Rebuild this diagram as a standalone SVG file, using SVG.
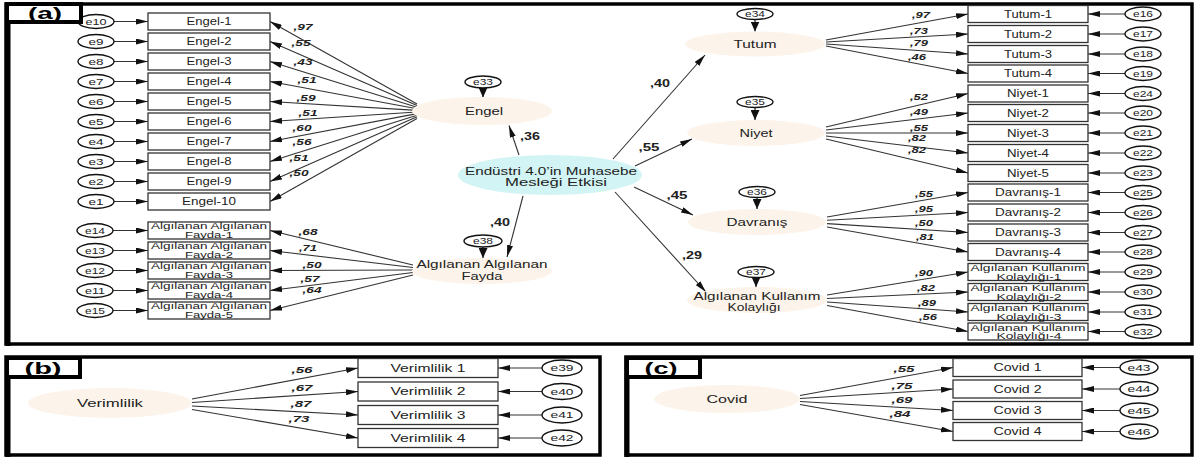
<svg xmlns="http://www.w3.org/2000/svg" width="1197" height="458" viewBox="0 0 1197 458">
<style>
text{font-family:"Liberation Sans",Arial,sans-serif;fill:#222;text-anchor:middle}
.box{fill:#fff;stroke:#333;stroke-width:1.3}
.lat{fill:#fcf4ea}
.cen{fill:#d2f4f4}
.err{fill:#fff;stroke:#111;stroke-width:1.4}
.bt{font-size:10px}
.bt2{font-size:9px}
.et{font-size:8.5px}
.lt{font-size:11.5px}
.lt2{font-size:10px}
.ct{font-size:9px;font-weight:bold;font-style:italic}
.pt{font-size:10px;font-weight:bold}
.pl{font-size:16px;font-weight:bold;fill:#000}
.fr{fill:none;stroke:#000;stroke-width:3.5}
.lb{fill:#fff;stroke:#000;stroke-width:4}
.cn line{stroke:#333;stroke-width:1.1;marker-end:url(#ah)}
.cn .dn{stroke:#111;marker-end:url(#ah2)}
.cp{stroke:#111;stroke-width:1.5;marker-end:url(#ah3)}
</style>
<defs>
<marker id="ah" viewBox="0 0 12 6" refX="12" refY="3" markerWidth="12" markerHeight="6" markerUnits="userSpaceOnUse" orient="auto"><path d="M0,0 L12,3 L0,6 Z" fill="#111"/></marker>
<marker id="ah2" viewBox="0 0 10 9" refX="10" refY="4.5" markerWidth="10" markerHeight="9" markerUnits="userSpaceOnUse" orient="auto"><path d="M0,0 L10,4.5 L0,9 Z" fill="#111"/></marker>
<marker id="ah3" viewBox="0 0 12 8" refX="12" refY="4" markerWidth="12" markerHeight="8" markerUnits="userSpaceOnUse" orient="auto"><path d="M0,0 L12,4 L0,8 Z" fill="#111"/></marker>
</defs>
<rect width="1197" height="458" fill="#fff"/>

<!-- panel frames -->
<g id="panel-a">
<rect class="fr" x="6" y="4" width="1186" height="340"/>
<line x1="8" y1="3" x2="8" y2="346" stroke="#000" stroke-width="5"/>
</g>
<g id="panel-b">
<rect class="fr" x="6" y="357" width="594" height="98"/>
<line x1="8" y1="356" x2="8" y2="457" stroke="#000" stroke-width="5"/>
</g>
<g id="panel-c">
<rect class="fr" x="626" y="357" width="566" height="98"/>
<line x1="627" y1="356" x2="627" y2="457" stroke="#000" stroke-width="5"/>
</g>

<!-- connectors -->
<g id="connectors" class="cn">
<line x1="114" y1="21.5" x2="148" y2="21.5"/>
<line x1="114" y1="41.5" x2="148" y2="41.5"/>
<line x1="114" y1="61.5" x2="148" y2="61.5"/>
<line x1="114" y1="81.5" x2="148" y2="81.5"/>
<line x1="114" y1="101.5" x2="148" y2="101.5"/>
<line x1="114" y1="121.5" x2="148" y2="121.5"/>
<line x1="114" y1="141.5" x2="148" y2="141.5"/>
<line x1="114" y1="161.5" x2="148" y2="161.5"/>
<line x1="114" y1="181.5" x2="148" y2="181.5"/>
<line x1="114" y1="201.5" x2="148" y2="201.5"/>
<line x1="113" y1="230.5" x2="148" y2="230.5"/>
<line x1="113" y1="250.5" x2="148" y2="250.5"/>
<line x1="113" y1="270.5" x2="148" y2="270.5"/>
<line x1="113" y1="290.5" x2="148" y2="290.5"/>
<line x1="113" y1="310.5" x2="148" y2="310.5"/>
<line x1="417" y1="104" x2="270" y2="21.5"/>
<line x1="417" y1="105.6" x2="270" y2="41.5"/>
<line x1="417" y1="107.2" x2="270" y2="61.5"/>
<line x1="417" y1="108.8" x2="270" y2="81.5"/>
<line x1="417" y1="110.4" x2="270" y2="101.5"/>
<line x1="417" y1="112" x2="270" y2="121.5"/>
<line x1="417" y1="113.6" x2="270" y2="141.5"/>
<line x1="417" y1="115.2" x2="270" y2="161.5"/>
<line x1="417" y1="116.8" x2="270" y2="181.5"/>
<line x1="417" y1="118.4" x2="270" y2="201.5"/>
<line x1="413" y1="265" x2="270" y2="230.5"/>
<line x1="413" y1="267.5" x2="270" y2="250.5"/>
<line x1="413" y1="270" x2="270" y2="270.5"/>
<line x1="413" y1="272.5" x2="270" y2="290.5"/>
<line x1="413" y1="275" x2="270" y2="310.5"/>
<line x1="1125" y1="14" x2="1088" y2="14"/>
<line x1="1125" y1="34" x2="1088" y2="34"/>
<line x1="1125" y1="54" x2="1088" y2="54"/>
<line x1="1125" y1="73.5" x2="1088" y2="73.5"/>
<line x1="1125" y1="93.5" x2="1088" y2="93.5"/>
<line x1="1125" y1="113" x2="1088" y2="113"/>
<line x1="1125" y1="133" x2="1088" y2="133"/>
<line x1="1125" y1="153" x2="1088" y2="153"/>
<line x1="1125" y1="173" x2="1088" y2="173"/>
<line x1="1125" y1="192.5" x2="1088" y2="192.5"/>
<line x1="1125" y1="212.5" x2="1088" y2="212.5"/>
<line x1="1125" y1="232.5" x2="1088" y2="232.5"/>
<line x1="1125" y1="252" x2="1088" y2="252"/>
<line x1="1125" y1="272" x2="1088" y2="272"/>
<line x1="1125" y1="292" x2="1088" y2="292"/>
<line x1="1125" y1="312" x2="1088" y2="312"/>
<line x1="1125" y1="331.5" x2="1088" y2="331.5"/>
<line x1="826" y1="40" x2="968" y2="14"/>
<line x1="826" y1="42" x2="968" y2="34"/>
<line x1="826" y1="44" x2="968" y2="54"/>
<line x1="826" y1="46" x2="968" y2="73.5"/>
<line x1="826" y1="127" x2="968" y2="93.5"/>
<line x1="826" y1="130" x2="968" y2="113"/>
<line x1="826" y1="133" x2="968" y2="133"/>
<line x1="826" y1="136" x2="968" y2="153"/>
<line x1="826" y1="139" x2="968" y2="173"/>
<line x1="827" y1="217" x2="968" y2="192.5"/>
<line x1="827" y1="220.3" x2="968" y2="212.5"/>
<line x1="827" y1="223.6" x2="968" y2="232.5"/>
<line x1="827" y1="227" x2="968" y2="252"/>
<line x1="827" y1="295" x2="968" y2="272"/>
<line x1="827" y1="298.5" x2="968" y2="292"/>
<line x1="827" y1="302" x2="968" y2="312"/>
<line x1="827" y1="305.5" x2="968" y2="331.5"/>
<line class="dn" x1="483" y1="88" x2="483" y2="97.5"/>
<line class="dn" x1="483" y1="247" x2="483" y2="258"/>
<line class="dn" x1="755" y1="19.5" x2="755" y2="31.5"/>
<line class="dn" x1="755" y1="107.5" x2="755" y2="120"/>
<line class="dn" x1="757" y1="197.5" x2="757" y2="209"/>
<line class="dn" x1="756" y1="277.5" x2="756" y2="287"/>
<line class="cp" x1="519" y1="155" x2="509" y2="125.5"/>
<line class="cp" x1="523" y1="196" x2="507" y2="257"/>
<line class="cp" x1="613" y1="159" x2="705" y2="55"/>
<line class="cp" x1="635" y1="166" x2="692" y2="139"/>
<line class="cp" x1="634" y1="187" x2="693" y2="215"/>
<line class="cp" x1="615" y1="192" x2="706" y2="292"/>
<line x1="192" y1="399" x2="358" y2="368"/>
<line x1="192" y1="402.5" x2="358" y2="391.5"/>
<line x1="192" y1="406" x2="358" y2="415"/>
<line x1="192" y1="409.5" x2="358" y2="438"/>
<line x1="542" y1="368" x2="498" y2="368"/>
<line x1="542" y1="391.5" x2="498" y2="391.5"/>
<line x1="542" y1="415" x2="498" y2="415"/>
<line x1="542" y1="438" x2="498" y2="438"/>
<line x1="800" y1="395.5" x2="953" y2="367.5"/>
<line x1="800" y1="398.5" x2="953" y2="389"/>
<line x1="800" y1="401.5" x2="953" y2="410.5"/>
<line x1="800" y1="404.5" x2="953" y2="431.5"/>
<line x1="1120" y1="367.5" x2="1082" y2="367.5"/>
<line x1="1120" y1="389" x2="1082" y2="389"/>
<line x1="1120" y1="410.5" x2="1082" y2="410.5"/>
<line x1="1120" y1="431.5" x2="1082" y2="431.5"/>
</g>

<!-- coefficient labels -->
<g id="coefficients">
<text class="ct" x="303" y="30" textLength="19" lengthAdjust="spacingAndGlyphs">,97</text>
<text class="ct" x="301" y="46" textLength="19" lengthAdjust="spacingAndGlyphs">,55</text>
<text class="ct" x="303" y="65" textLength="19" lengthAdjust="spacingAndGlyphs">,43</text>
<text class="ct" x="307" y="83" textLength="19" lengthAdjust="spacingAndGlyphs">,51</text>
<text class="ct" x="306" y="101" textLength="19" lengthAdjust="spacingAndGlyphs">,59</text>
<text class="ct" x="308" y="116" textLength="19" lengthAdjust="spacingAndGlyphs">,51</text>
<text class="ct" x="302" y="131" textLength="19" lengthAdjust="spacingAndGlyphs">,60</text>
<text class="ct" x="302" y="145" textLength="19" lengthAdjust="spacingAndGlyphs">,56</text>
<text class="ct" x="299" y="161" textLength="19" lengthAdjust="spacingAndGlyphs">,51</text>
<text class="ct" x="299" y="176" textLength="19" lengthAdjust="spacingAndGlyphs">,50</text>
<text class="ct" x="308" y="235" textLength="19" lengthAdjust="spacingAndGlyphs">,68</text>
<text class="ct" x="308" y="251" textLength="18" lengthAdjust="spacingAndGlyphs">,71</text>
<text class="ct" x="312" y="268" textLength="19" lengthAdjust="spacingAndGlyphs">,50</text>
<text class="ct" x="310" y="282" textLength="19" lengthAdjust="spacingAndGlyphs">,57</text>
<text class="ct" x="312" y="293" textLength="19" lengthAdjust="spacingAndGlyphs">,64</text>
<text class="ct" x="921" y="18" textLength="18" lengthAdjust="spacingAndGlyphs">,97</text>
<text class="ct" x="919" y="34" textLength="18" lengthAdjust="spacingAndGlyphs">,73</text>
<text class="ct" x="919" y="46" textLength="18" lengthAdjust="spacingAndGlyphs">,79</text>
<text class="ct" x="917" y="60" textLength="18" lengthAdjust="spacingAndGlyphs">,46</text>
<text class="ct" x="919" y="100" textLength="18" lengthAdjust="spacingAndGlyphs">,52</text>
<text class="ct" x="919" y="115" textLength="18" lengthAdjust="spacingAndGlyphs">,49</text>
<text class="ct" x="919" y="131" textLength="18" lengthAdjust="spacingAndGlyphs">,55</text>
<text class="ct" x="917" y="141" textLength="18" lengthAdjust="spacingAndGlyphs">,82</text>
<text class="ct" x="917" y="153" textLength="18" lengthAdjust="spacingAndGlyphs">,82</text>
<text class="ct" x="924" y="197" textLength="18" lengthAdjust="spacingAndGlyphs">,55</text>
<text class="ct" x="924" y="212" textLength="18" lengthAdjust="spacingAndGlyphs">,95</text>
<text class="ct" x="924" y="226" textLength="18" lengthAdjust="spacingAndGlyphs">,50</text>
<text class="ct" x="925" y="240" textLength="18" lengthAdjust="spacingAndGlyphs">,81</text>
<text class="ct" x="924" y="276" textLength="18" lengthAdjust="spacingAndGlyphs">,90</text>
<text class="ct" x="926" y="291" textLength="18" lengthAdjust="spacingAndGlyphs">,82</text>
<text class="ct" x="927" y="306" textLength="18" lengthAdjust="spacingAndGlyphs">,89</text>
<text class="ct" x="928" y="320" textLength="18" lengthAdjust="spacingAndGlyphs">,56</text>
<text class="ct" x="302" y="373" textLength="21" lengthAdjust="spacingAndGlyphs">,56</text>
<text class="ct" x="302" y="391" textLength="21" lengthAdjust="spacingAndGlyphs">,67</text>
<text class="ct" x="301" y="407" textLength="21" lengthAdjust="spacingAndGlyphs">,87</text>
<text class="ct" x="299" y="422" textLength="21" lengthAdjust="spacingAndGlyphs">,73</text>
<text class="ct" x="904" y="372" textLength="21" lengthAdjust="spacingAndGlyphs">,55</text>
<text class="ct" x="902" y="389" textLength="21" lengthAdjust="spacingAndGlyphs">,75</text>
<text class="ct" x="902" y="403" textLength="21" lengthAdjust="spacingAndGlyphs">,69</text>
<text class="ct" x="900" y="417" textLength="21" lengthAdjust="spacingAndGlyphs">,84</text>
<text class="pt" x="530" y="140" textLength="20" lengthAdjust="spacingAndGlyphs">,36</text>
<text class="pt" x="500" y="226" textLength="20" lengthAdjust="spacingAndGlyphs">,40</text>
<text class="pt" x="660" y="87" textLength="20" lengthAdjust="spacingAndGlyphs">,40</text>
<text class="pt" x="649" y="151" textLength="21" lengthAdjust="spacingAndGlyphs">,55</text>
<text class="pt" x="677" y="199" textLength="21" lengthAdjust="spacingAndGlyphs">,45</text>
<text class="pt" x="692" y="259" textLength="20" lengthAdjust="spacingAndGlyphs">,29</text>
</g>

<!-- Engel indicators -->
<g id="engel-1"><rect class="box" x="148" y="13" width="122" height="17"/><text class="bt" x="209" y="25" textLength="45" lengthAdjust="spacingAndGlyphs">Engel-1</text></g>
<g id="engel-2"><rect class="box" x="148" y="33" width="122" height="17"/><text class="bt" x="209" y="45" textLength="45" lengthAdjust="spacingAndGlyphs">Engel-2</text></g>
<g id="engel-3"><rect class="box" x="148" y="53" width="122" height="17"/><text class="bt" x="209" y="65" textLength="45" lengthAdjust="spacingAndGlyphs">Engel-3</text></g>
<g id="engel-4"><rect class="box" x="148" y="73" width="122" height="17"/><text class="bt" x="209" y="85" textLength="45" lengthAdjust="spacingAndGlyphs">Engel-4</text></g>
<g id="engel-5"><rect class="box" x="148" y="93" width="122" height="17"/><text class="bt" x="209" y="105" textLength="45" lengthAdjust="spacingAndGlyphs">Engel-5</text></g>
<g id="engel-6"><rect class="box" x="148" y="113" width="122" height="17"/><text class="bt" x="209" y="125" textLength="45" lengthAdjust="spacingAndGlyphs">Engel-6</text></g>
<g id="engel-7"><rect class="box" x="148" y="133" width="122" height="17"/><text class="bt" x="209" y="145" textLength="45" lengthAdjust="spacingAndGlyphs">Engel-7</text></g>
<g id="engel-8"><rect class="box" x="148" y="153" width="122" height="17"/><text class="bt" x="209" y="165" textLength="45" lengthAdjust="spacingAndGlyphs">Engel-8</text></g>
<g id="engel-9"><rect class="box" x="148" y="173" width="122" height="17"/><text class="bt" x="209" y="185" textLength="45" lengthAdjust="spacingAndGlyphs">Engel-9</text></g>
<g id="engel-10"><rect class="box" x="148" y="193" width="122" height="17"/><text class="bt" x="209" y="205" textLength="54" lengthAdjust="spacingAndGlyphs">Engel-10</text></g>

<g id="e10"><ellipse class="err" cx="96" cy="21.5" rx="18" ry="7"/><text class="et" x="96" y="24.5" textLength="21" lengthAdjust="spacingAndGlyphs">e10</text></g>
<g id="e9"><ellipse class="err" cx="96" cy="41.5" rx="18" ry="7"/><text class="et" x="96" y="44.5" textLength="15" lengthAdjust="spacingAndGlyphs">e9</text></g>
<g id="e8"><ellipse class="err" cx="96" cy="61.5" rx="18" ry="7"/><text class="et" x="96" y="64.5" textLength="15" lengthAdjust="spacingAndGlyphs">e8</text></g>
<g id="e7"><ellipse class="err" cx="96" cy="81.5" rx="18" ry="7"/><text class="et" x="96" y="84.5" textLength="15" lengthAdjust="spacingAndGlyphs">e7</text></g>
<g id="e6"><ellipse class="err" cx="96" cy="101.5" rx="18" ry="7"/><text class="et" x="96" y="104.5" textLength="15" lengthAdjust="spacingAndGlyphs">e6</text></g>
<g id="e5"><ellipse class="err" cx="96" cy="121.5" rx="18" ry="7"/><text class="et" x="96" y="124.5" textLength="15" lengthAdjust="spacingAndGlyphs">e5</text></g>
<g id="e4"><ellipse class="err" cx="96" cy="141.5" rx="18" ry="7"/><text class="et" x="96" y="144.5" textLength="15" lengthAdjust="spacingAndGlyphs">e4</text></g>
<g id="e3"><ellipse class="err" cx="96" cy="161.5" rx="18" ry="7"/><text class="et" x="96" y="164.5" textLength="15" lengthAdjust="spacingAndGlyphs">e3</text></g>
<g id="e2"><ellipse class="err" cx="96" cy="181.5" rx="18" ry="7"/><text class="et" x="96" y="184.5" textLength="15" lengthAdjust="spacingAndGlyphs">e2</text></g>
<g id="e1"><ellipse class="err" cx="96" cy="201.5" rx="18" ry="7"/><text class="et" x="96" y="204.5" textLength="15" lengthAdjust="spacingAndGlyphs">e1</text></g>

<!-- Fayda indicators -->
<g id="fayda-1"><rect class="box" x="148" y="222" width="122" height="17"/><text class="bt2" x="209" y="229" textLength="116" lengthAdjust="spacingAndGlyphs">Algılanan Algılanan</text><text class="bt2" x="209" y="237.5" textLength="48" lengthAdjust="spacingAndGlyphs">Fayda-1</text></g>
<g id="fayda-2"><rect class="box" x="148" y="242" width="122" height="17"/><text class="bt2" x="209" y="249" textLength="116" lengthAdjust="spacingAndGlyphs">Algılanan Algılanan</text><text class="bt2" x="209" y="257.5" textLength="48" lengthAdjust="spacingAndGlyphs">Fayda-2</text></g>
<g id="fayda-3"><rect class="box" x="148" y="262" width="122" height="17"/><text class="bt2" x="209" y="269" textLength="116" lengthAdjust="spacingAndGlyphs">Algılanan Algılanan</text><text class="bt2" x="209" y="277.5" textLength="48" lengthAdjust="spacingAndGlyphs">Fayda-3</text></g>
<g id="fayda-4"><rect class="box" x="148" y="282" width="122" height="17"/><text class="bt2" x="209" y="289" textLength="116" lengthAdjust="spacingAndGlyphs">Algılanan Algılanan</text><text class="bt2" x="209" y="297.5" textLength="48" lengthAdjust="spacingAndGlyphs">Fayda-4</text></g>
<g id="fayda-5"><rect class="box" x="148" y="302" width="122" height="17"/><text class="bt2" x="209" y="309" textLength="116" lengthAdjust="spacingAndGlyphs">Algılanan Algılanan</text><text class="bt2" x="209" y="317.5" textLength="48" lengthAdjust="spacingAndGlyphs">Fayda-5</text></g>

<g id="e14"><ellipse class="err" cx="95" cy="230.5" rx="18" ry="7"/><text class="et" x="95" y="233.5" textLength="20" lengthAdjust="spacingAndGlyphs">e14</text></g>
<g id="e13"><ellipse class="err" cx="95" cy="250.5" rx="18" ry="7"/><text class="et" x="95" y="253.5" textLength="20" lengthAdjust="spacingAndGlyphs">e13</text></g>
<g id="e12"><ellipse class="err" cx="95" cy="270.5" rx="18" ry="7"/><text class="et" x="95" y="273.5" textLength="20" lengthAdjust="spacingAndGlyphs">e12</text></g>
<g id="e11"><ellipse class="err" cx="95" cy="290.5" rx="18" ry="7"/><text class="et" x="95" y="293.5" textLength="20" lengthAdjust="spacingAndGlyphs">e11</text></g>
<g id="e15"><ellipse class="err" cx="95" cy="310.5" rx="18" ry="7"/><text class="et" x="95" y="313.5" textLength="20" lengthAdjust="spacingAndGlyphs">e15</text></g>

<!-- latent variables -->
<g id="engel"><ellipse class="lat" cx="482" cy="111" rx="70" ry="14"/><text class="lt" x="484" y="115" textLength="38" lengthAdjust="spacingAndGlyphs">Engel</text></g>
<g id="e33"><ellipse class="err" cx="483" cy="82" rx="18" ry="6"/><text class="et" x="483" y="85" textLength="20" lengthAdjust="spacingAndGlyphs">e33</text></g>
<g id="fayda"><ellipse class="lat" cx="482" cy="271" rx="70" ry="13"/><text class="lt2" x="482" y="268" textLength="131" lengthAdjust="spacingAndGlyphs">Algılanan Algılanan</text><text class="lt2" x="482" y="279.5" textLength="41" lengthAdjust="spacingAndGlyphs">Fayda</text></g>
<g id="e38"><ellipse class="err" cx="483" cy="241" rx="19" ry="6"/><text class="et" x="483" y="244" textLength="20" lengthAdjust="spacingAndGlyphs">e38</text></g>
<g id="endustri"><ellipse class="cen" cx="550" cy="175" rx="92" ry="20"/><text class="lt2" x="551" y="174.5" textLength="172" lengthAdjust="spacingAndGlyphs">Endüstri 4.0’in Muhasebe</text><text class="lt2" x="556" y="186" textLength="102" lengthAdjust="spacingAndGlyphs">Mesleği Etkisi</text></g>

<g id="tutum"><ellipse class="lat" cx="755" cy="44" rx="70" ry="12.5"/><text class="lt" x="755" y="48" textLength="43" lengthAdjust="spacingAndGlyphs">Tutum</text></g>
<g id="e34"><ellipse class="err" cx="755" cy="14" rx="18" ry="5.5"/><text class="et" x="755" y="17" textLength="20" lengthAdjust="spacingAndGlyphs">e34</text></g>
<g id="niyet"><ellipse class="lat" cx="756" cy="133" rx="69" ry="13"/><text class="lt" x="756" y="137" textLength="33" lengthAdjust="spacingAndGlyphs">Niyet</text></g>
<g id="e35"><ellipse class="err" cx="755" cy="102" rx="18" ry="5.5"/><text class="et" x="755" y="105" textLength="20" lengthAdjust="spacingAndGlyphs">e35</text></g>
<g id="davranis"><ellipse class="lat" cx="757" cy="222" rx="69" ry="13"/><text class="lt" x="757" y="226" textLength="61" lengthAdjust="spacingAndGlyphs">Davranış</text></g>
<g id="e36"><ellipse class="err" cx="757" cy="192" rx="18" ry="5.5"/><text class="et" x="757" y="195" textLength="20" lengthAdjust="spacingAndGlyphs">e36</text></g>
<g id="akk"><ellipse class="lat" cx="757" cy="300" rx="70" ry="13"/><text class="lt2" x="757" y="299.5" textLength="127" lengthAdjust="spacingAndGlyphs">Algılanan Kullanım</text><text class="lt2" x="754" y="311" textLength="53" lengthAdjust="spacingAndGlyphs">Kolaylığı</text></g>
<g id="e37"><ellipse class="err" cx="756" cy="272" rx="18" ry="5.5"/><text class="et" x="756" y="275" textLength="20" lengthAdjust="spacingAndGlyphs">e37</text></g>

<!-- right indicators -->
<g id="tutum-1"><rect class="box" x="968" y="5.5" width="120" height="17"/><text class="bt" x="1028" y="17.5" textLength="48" lengthAdjust="spacingAndGlyphs">Tutum-1</text></g>
<g id="tutum-2"><rect class="box" x="968" y="25.5" width="120" height="17"/><text class="bt" x="1028" y="37.5" textLength="48" lengthAdjust="spacingAndGlyphs">Tutum-2</text></g>
<g id="tutum-3"><rect class="box" x="968" y="45.5" width="120" height="17"/><text class="bt" x="1028" y="57.5" textLength="48" lengthAdjust="spacingAndGlyphs">Tutum-3</text></g>
<g id="tutum-4"><rect class="box" x="968" y="65" width="120" height="17"/><text class="bt" x="1028" y="77" textLength="48" lengthAdjust="spacingAndGlyphs">Tutum-4</text></g>
<g id="niyet-1"><rect class="box" x="968" y="85" width="120" height="17"/><text class="bt" x="1028" y="97" textLength="42" lengthAdjust="spacingAndGlyphs">Niyet-1</text></g>
<g id="niyet-2"><rect class="box" x="968" y="104.5" width="120" height="17"/><text class="bt" x="1028" y="116.5" textLength="42" lengthAdjust="spacingAndGlyphs">Niyet-2</text></g>
<g id="niyet-3"><rect class="box" x="968" y="124.5" width="120" height="17"/><text class="bt" x="1028" y="136.5" textLength="42" lengthAdjust="spacingAndGlyphs">Niyet-3</text></g>
<g id="niyet-4"><rect class="box" x="968" y="144.5" width="120" height="17"/><text class="bt" x="1028" y="156.5" textLength="42" lengthAdjust="spacingAndGlyphs">Niyet-4</text></g>
<g id="niyet-5"><rect class="box" x="968" y="164.5" width="120" height="17"/><text class="bt" x="1028" y="176.5" textLength="42" lengthAdjust="spacingAndGlyphs">Niyet-5</text></g>
<g id="davranis-1"><rect class="box" x="968" y="184" width="120" height="17"/><text class="bt" x="1028" y="196" textLength="66" lengthAdjust="spacingAndGlyphs">Davranış-1</text></g>
<g id="davranis-2"><rect class="box" x="968" y="204" width="120" height="17"/><text class="bt" x="1028" y="216" textLength="66" lengthAdjust="spacingAndGlyphs">Davranış-2</text></g>
<g id="davranis-3"><rect class="box" x="968" y="224" width="120" height="17"/><text class="bt" x="1028" y="236" textLength="66" lengthAdjust="spacingAndGlyphs">Davranış-3</text></g>
<g id="davranis-4"><rect class="box" x="968" y="243.5" width="120" height="17"/><text class="bt" x="1028" y="255.5" textLength="66" lengthAdjust="spacingAndGlyphs">Davranış-4</text></g>
<g id="akk-1"><rect class="box" x="968" y="263.5" width="120" height="17"/><text class="bt2" x="1028" y="271" textLength="115" lengthAdjust="spacingAndGlyphs">Algılanan Kullanım</text><text class="bt2" x="1029" y="279.5" textLength="65" lengthAdjust="spacingAndGlyphs">Kolaylığı-1</text></g>
<g id="akk-2"><rect class="box" x="968" y="283.5" width="120" height="17"/><text class="bt2" x="1028" y="291" textLength="115" lengthAdjust="spacingAndGlyphs">Algılanan Kullanım</text><text class="bt2" x="1029" y="299.5" textLength="65" lengthAdjust="spacingAndGlyphs">Kolaylığı-2</text></g>
<g id="akk-3"><rect class="box" x="968" y="303.5" width="120" height="17"/><text class="bt2" x="1028" y="311" textLength="115" lengthAdjust="spacingAndGlyphs">Algılanan Kullanım</text><text class="bt2" x="1029" y="319.5" textLength="65" lengthAdjust="spacingAndGlyphs">Kolaylığı-3</text></g>
<g id="akk-4"><rect class="box" x="968" y="323" width="120" height="17"/><text class="bt2" x="1028" y="330.5" textLength="115" lengthAdjust="spacingAndGlyphs">Algılanan Kullanım</text><text class="bt2" x="1029" y="339" textLength="65" lengthAdjust="spacingAndGlyphs">Kolaylığı-4</text></g>

<g id="e16"><ellipse class="err" cx="1143" cy="14" rx="18" ry="7"/><text class="et" x="1143" y="17" textLength="20" lengthAdjust="spacingAndGlyphs">e16</text></g>
<g id="e17"><ellipse class="err" cx="1143" cy="34" rx="18" ry="7"/><text class="et" x="1143" y="37" textLength="20" lengthAdjust="spacingAndGlyphs">e17</text></g>
<g id="e18"><ellipse class="err" cx="1143" cy="54" rx="18" ry="7"/><text class="et" x="1143" y="57" textLength="20" lengthAdjust="spacingAndGlyphs">e18</text></g>
<g id="e19"><ellipse class="err" cx="1143" cy="73.5" rx="18" ry="7"/><text class="et" x="1143" y="76.5" textLength="20" lengthAdjust="spacingAndGlyphs">e19</text></g>
<g id="e24"><ellipse class="err" cx="1143" cy="93.5" rx="18" ry="7"/><text class="et" x="1143" y="96.5" textLength="20" lengthAdjust="spacingAndGlyphs">e24</text></g>
<g id="e20"><ellipse class="err" cx="1143" cy="113" rx="18" ry="7"/><text class="et" x="1143" y="116" textLength="20" lengthAdjust="spacingAndGlyphs">e20</text></g>
<g id="e21"><ellipse class="err" cx="1143" cy="133" rx="18" ry="7"/><text class="et" x="1143" y="136" textLength="20" lengthAdjust="spacingAndGlyphs">e21</text></g>
<g id="e22"><ellipse class="err" cx="1143" cy="153" rx="18" ry="7"/><text class="et" x="1143" y="156" textLength="20" lengthAdjust="spacingAndGlyphs">e22</text></g>
<g id="e23"><ellipse class="err" cx="1143" cy="173" rx="18" ry="7"/><text class="et" x="1143" y="176" textLength="20" lengthAdjust="spacingAndGlyphs">e23</text></g>
<g id="e25"><ellipse class="err" cx="1143" cy="192.5" rx="18" ry="7"/><text class="et" x="1143" y="195.5" textLength="20" lengthAdjust="spacingAndGlyphs">e25</text></g>
<g id="e26"><ellipse class="err" cx="1143" cy="212.5" rx="18" ry="7"/><text class="et" x="1143" y="215.5" textLength="20" lengthAdjust="spacingAndGlyphs">e26</text></g>
<g id="e27"><ellipse class="err" cx="1143" cy="232.5" rx="18" ry="7"/><text class="et" x="1143" y="235.5" textLength="20" lengthAdjust="spacingAndGlyphs">e27</text></g>
<g id="e28"><ellipse class="err" cx="1143" cy="252" rx="18" ry="7"/><text class="et" x="1143" y="255" textLength="20" lengthAdjust="spacingAndGlyphs">e28</text></g>
<g id="e29"><ellipse class="err" cx="1143" cy="272" rx="18" ry="7"/><text class="et" x="1143" y="275" textLength="20" lengthAdjust="spacingAndGlyphs">e29</text></g>
<g id="e30"><ellipse class="err" cx="1143" cy="292" rx="18" ry="7"/><text class="et" x="1143" y="295" textLength="20" lengthAdjust="spacingAndGlyphs">e30</text></g>
<g id="e31"><ellipse class="err" cx="1143" cy="312" rx="18" ry="7"/><text class="et" x="1143" y="315" textLength="20" lengthAdjust="spacingAndGlyphs">e31</text></g>
<g id="e32"><ellipse class="err" cx="1143" cy="331.5" rx="18" ry="7"/><text class="et" x="1143" y="334.5" textLength="20" lengthAdjust="spacingAndGlyphs">e32</text></g>

<!-- panel b -->
<g id="verimlilik"><ellipse class="lat" cx="110" cy="403" rx="82" ry="15"/><text class="lt" x="110" y="407" textLength="66" lengthAdjust="spacingAndGlyphs">Verimlilik</text></g>
<g id="verimlilik-1"><rect class="box" x="358" y="358.5" width="140" height="19"/><text class="bt" x="428" y="371.5" textLength="75" lengthAdjust="spacingAndGlyphs">Verimlilik 1</text></g>
<g id="verimlilik-2"><rect class="box" x="358" y="382" width="140" height="19"/><text class="bt" x="428" y="395" textLength="75" lengthAdjust="spacingAndGlyphs">Verimlilik 2</text></g>
<g id="verimlilik-3"><rect class="box" x="358" y="405.5" width="140" height="19"/><text class="bt" x="428" y="418.5" textLength="75" lengthAdjust="spacingAndGlyphs">Verimlilik 3</text></g>
<g id="verimlilik-4"><rect class="box" x="358" y="428.5" width="140" height="19"/><text class="bt" x="428" y="441.5" textLength="75" lengthAdjust="spacingAndGlyphs">Verimlilik 4</text></g>
<g id="e39"><ellipse class="err" cx="562" cy="368" rx="20" ry="8"/><text class="et" x="562" y="371" textLength="23" lengthAdjust="spacingAndGlyphs">e39</text></g>
<g id="e40"><ellipse class="err" cx="562" cy="391.5" rx="20" ry="8"/><text class="et" x="562" y="394.5" textLength="23" lengthAdjust="spacingAndGlyphs">e40</text></g>
<g id="e41"><ellipse class="err" cx="562" cy="415" rx="20" ry="8"/><text class="et" x="562" y="418" textLength="23" lengthAdjust="spacingAndGlyphs">e41</text></g>
<g id="e42"><ellipse class="err" cx="562" cy="438" rx="20" ry="8"/><text class="et" x="562" y="441" textLength="23" lengthAdjust="spacingAndGlyphs">e42</text></g>

<!-- panel c -->
<g id="covid"><ellipse class="lat" cx="727" cy="399" rx="73" ry="14"/><text class="lt" x="727" y="403" textLength="41" lengthAdjust="spacingAndGlyphs">Covid</text></g>
<g id="covid-1"><rect class="box" x="953" y="358.5" width="129" height="18"/><text class="bt" x="1017.5" y="371" textLength="48" lengthAdjust="spacingAndGlyphs">Covid 1</text></g>
<g id="covid-2"><rect class="box" x="953" y="380" width="129" height="18"/><text class="bt" x="1017.5" y="392.5" textLength="48" lengthAdjust="spacingAndGlyphs">Covid 2</text></g>
<g id="covid-3"><rect class="box" x="953" y="401.5" width="129" height="18"/><text class="bt" x="1017.5" y="414" textLength="48" lengthAdjust="spacingAndGlyphs">Covid 3</text></g>
<g id="covid-4"><rect class="box" x="953" y="422.5" width="129" height="18"/><text class="bt" x="1017.5" y="435" textLength="48" lengthAdjust="spacingAndGlyphs">Covid 4</text></g>
<g id="e43"><ellipse class="err" cx="1139" cy="367.5" rx="19" ry="7.5"/><text class="et" x="1139" y="370.5" textLength="23" lengthAdjust="spacingAndGlyphs">e43</text></g>
<g id="e44"><ellipse class="err" cx="1139" cy="389" rx="19" ry="7.5"/><text class="et" x="1139" y="392" textLength="23" lengthAdjust="spacingAndGlyphs">e44</text></g>
<g id="e45"><ellipse class="err" cx="1139" cy="410.5" rx="19" ry="7.5"/><text class="et" x="1139" y="413.5" textLength="23" lengthAdjust="spacingAndGlyphs">e45</text></g>
<g id="e46"><ellipse class="err" cx="1139" cy="431.5" rx="19" ry="7.5"/><text class="et" x="1139" y="434.5" textLength="23" lengthAdjust="spacingAndGlyphs">e46</text></g>

<!-- panel labels -->
<g id="label-a"><rect class="lb" x="7" y="4" width="74" height="18"/><text class="pl" x="45" y="19" textLength="34" lengthAdjust="spacingAndGlyphs">(a)</text></g>
<g id="label-b"><rect class="lb" x="7" y="358" width="73" height="19"/><text class="pl" x="43" y="374" textLength="37" lengthAdjust="spacingAndGlyphs">(b)</text></g>
<g id="label-c"><rect class="lb" x="627" y="358" width="73" height="19"/><text class="pl" x="661" y="374" textLength="33" lengthAdjust="spacingAndGlyphs">(c)</text></g>
</svg>
